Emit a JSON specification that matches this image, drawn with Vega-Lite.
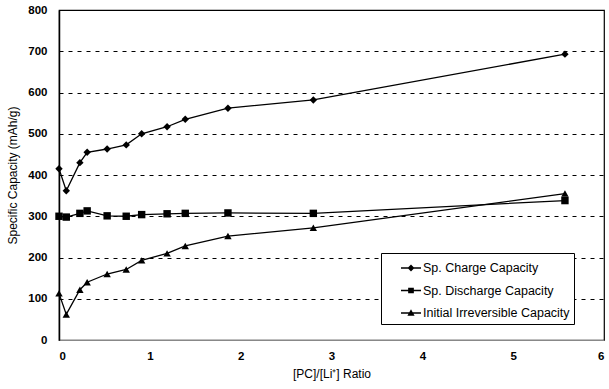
{
  "$schema": "https://vega.github.io/schema/vega-lite/v6.json",
  "width": 545,
  "height": 330,
  "autosize": "none",
  "padding": {"left": 59, "top": 10, "right": 5, "bottom": 49},
  "background": "white",
  "config": {
    "font": "Liberation Sans",
    "view": {"stroke": "black", "strokeWidth": 1.2},
    "axis": {"labelFont": "Liberation Sans", "titleFont": "Liberation Sans", "labelColor": "black", "titleColor": "black", "labelFontSize": 11.5, "titleFontSize": 12, "labelFontWeight": "bold", "titleFontWeight": "normal"}
  },
  "data": {"values": [
    {"x": 0, "y": 415, "s": "Sp. Charge Capacity"},
    {"x": 0.08, "y": 362, "s": "Sp. Charge Capacity"},
    {"x": 0.23, "y": 430, "s": "Sp. Charge Capacity"},
    {"x": 0.31, "y": 455, "s": "Sp. Charge Capacity"},
    {"x": 0.53, "y": 463, "s": "Sp. Charge Capacity"},
    {"x": 0.74, "y": 473, "s": "Sp. Charge Capacity"},
    {"x": 0.91, "y": 500, "s": "Sp. Charge Capacity"},
    {"x": 1.19, "y": 517, "s": "Sp. Charge Capacity"},
    {"x": 1.39, "y": 535, "s": "Sp. Charge Capacity"},
    {"x": 1.86, "y": 562, "s": "Sp. Charge Capacity"},
    {"x": 2.8, "y": 582, "s": "Sp. Charge Capacity"},
    {"x": 5.57, "y": 693, "s": "Sp. Charge Capacity"},
    {"x": 0, "y": 300, "s": "Sp. Discharge Capacity"},
    {"x": 0.08, "y": 298, "s": "Sp. Discharge Capacity"},
    {"x": 0.23, "y": 307, "s": "Sp. Discharge Capacity"},
    {"x": 0.31, "y": 313, "s": "Sp. Discharge Capacity"},
    {"x": 0.53, "y": 301, "s": "Sp. Discharge Capacity"},
    {"x": 0.74, "y": 300, "s": "Sp. Discharge Capacity"},
    {"x": 0.91, "y": 304, "s": "Sp. Discharge Capacity"},
    {"x": 1.19, "y": 306, "s": "Sp. Discharge Capacity"},
    {"x": 1.39, "y": 307, "s": "Sp. Discharge Capacity"},
    {"x": 1.86, "y": 308, "s": "Sp. Discharge Capacity"},
    {"x": 2.8, "y": 307, "s": "Sp. Discharge Capacity"},
    {"x": 5.57, "y": 338, "s": "Sp. Discharge Capacity"},
    {"x": 0, "y": 113, "s": "Initial Irreversible Capacity"},
    {"x": 0.08, "y": 62, "s": "Initial Irreversible Capacity"},
    {"x": 0.23, "y": 122, "s": "Initial Irreversible Capacity"},
    {"x": 0.31, "y": 140, "s": "Initial Irreversible Capacity"},
    {"x": 0.53, "y": 160, "s": "Initial Irreversible Capacity"},
    {"x": 0.74, "y": 171, "s": "Initial Irreversible Capacity"},
    {"x": 0.91, "y": 193, "s": "Initial Irreversible Capacity"},
    {"x": 1.19, "y": 210, "s": "Initial Irreversible Capacity"},
    {"x": 1.39, "y": 228, "s": "Initial Irreversible Capacity"},
    {"x": 1.86, "y": 252, "s": "Initial Irreversible Capacity"},
    {"x": 2.8, "y": 272, "s": "Initial Irreversible Capacity"},
    {"x": 5.57, "y": 355, "s": "Initial Irreversible Capacity"}
  ]},
  "encoding": {
    "x": {"field": "x", "type": "quantitative", "scale": {"domain": [0, 6], "nice": false},
      "axis": {"title": "[PC]/[Li⁺] Ratio", "values": [0,1,2,3,4,5,6], "format": "d", "grid": false, "ticks": false, "domain": true, "domainColor": "#888", "labelPadding": 10, "titlePadding": 7}},
    "y": {"field": "y", "type": "quantitative", "scale": {"domain": [0, 800], "nice": false},
      "axis": {"title": "Specific Capacity (mAh/g)", "values": [0,100,200,300,400,500,600,700,800], "grid": true, "gridColor": "black", "gridDash": [4, 5], "gridWidth": 1, "ticks": false, "domain": true, "domainColor": "black", "domainWidth": 1.5, "labelPadding": 12, "titlePadding": 8}}
  },
  "layer": [
    {"mark": {"type": "line", "color": "black", "strokeWidth": 1.3},
     "encoding": {"detail": {"field": "s"}}},
    {"mark": {"type": "point", "filled": true, "color": "black", "opacity": 1},
     "encoding": {
       "shape": {"field": "s", "type": "nominal",
         "scale": {"domain": ["Sp. Charge Capacity", "Sp. Discharge Capacity", "Initial Irreversible Capacity"], "range": ["diamond", "square", "triangle-up"]},
         "legend": null},
       "size": {"value": 55}
     }},
    {"mark": {"type": "point", "filled": false, "color": "black", "opacity": 0, "strokeWidth": 1.3},
     "encoding": {
       "shape": {"field": "s", "type": "nominal",
         "scale": {"domain": ["Sp. Charge Capacity", "Sp. Discharge Capacity", "Initial Irreversible Capacity"],
           "range": [
             "M-1,0L1,0M-0.25,0L0,-0.25L0.25,0L0,0.25ZM-0.17,0L0,-0.17L0.17,0L0,0.17ZM-0.09,0L0,-0.09L0.09,0L0,0.09Z",
             "M-1,0L1,0M-0.22,-0.22L0.22,-0.22L0.22,0.22L-0.22,0.22ZM-0.15,-0.15L0.15,-0.15L0.15,0.15L-0.15,0.15ZM-0.08,-0.08L0.08,-0.08L0.08,0.08L-0.08,0.08Z",
             "M-1,0L1,0M-0.25,0.2L0,-0.25L0.25,0.2ZM-0.15,0.14L0,-0.13L0.15,0.14ZM-0.06,0.09L0,-0.02L0.06,0.09Z"]},
         "legend": {"title": null, "orient": "none", "legendX": 322, "legendY": 243, "strokeColor": "black", "fillColor": "white", "padding": 4, "rowPadding": 4.5, "labelFontSize": 12.5, "labelFont": "Liberation Sans", "labelColor": "black", "symbolOpacity": 1, "symbolStrokeColor": "black", "symbolStrokeWidth": 1.3, "symbolSize": 400, "symbolOffset": 15, "labelOffset": 1}},
       "size": {"value": 400}
     }}
  ],
  "resolve": {"scale": {"shape": "independent"}, "legend": {"shape": "independent"}}
}
